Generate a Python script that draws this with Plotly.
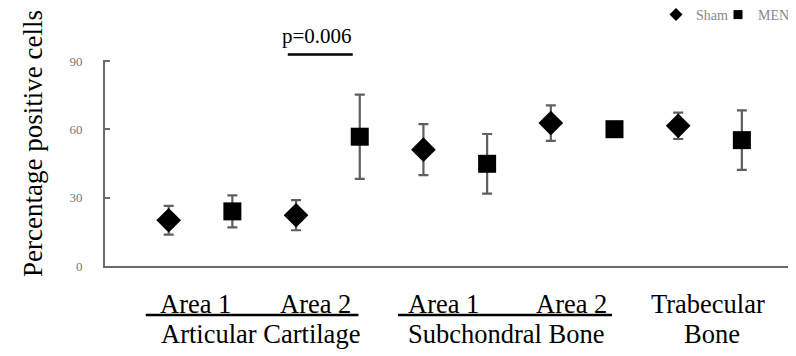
import plotly.graph_objects as go

# Data
categories = [1, 2, 3, 4, 5, 6, 7, 8, 9, 10]
sham_x = [1, 3, 5, 7, 9]
sham_values = [20.1, 22.3, 51.1, 62.8, 61.6]
sham_errors = [6.3, 6.6, 11.2, 7.8, 5.8]
men_x = [2, 4, 6, 8, 10]
men_values = [24.0, 56.8, 44.9, 60.1, 55.3]
men_errors = [7.0, 18.5, 13.1, 2.0, 13.1]
y_ticks = [0, 30, 60, 90]

area_labels = ["Area 1", "Area 2", "Area 1", "Area 2", "Trabecular"]
area_label_x = [1.42, 3.3, 5.32, 7.32, 9.47]
group_labels = ["Articular Cartilage", "Subchondral Bone", "Bone"]
group_label_x = [2.44, 6.3, 9.53]

SERIF = "Liberation Serif, Times New Roman, serif"
err_col = "#5f5f5f"
OFF = 8  # page body margin
W, H = 796, 356
L, T = 105 - OFF, 60 - OFF
R = W - (796 - OFF)
B = H - (266 - OFF)
PW, PH = W - L - R, H - T - B


def py(pix):
    """screen pixel row -> paper y"""
    return (266 - pix) / PH


def px(pix):
    return (pix - 105) / PW


fig = go.Figure()
fig.add_trace(go.Scatter(
    x=sham_x, y=sham_values, mode="markers", name="Sham", showlegend=False,
    marker=dict(symbol="diamond", size=19, color="black"),
    error_y=dict(type="data", array=sham_errors, color=err_col, thickness=2.2, width=5),
))
fig.add_trace(go.Scatter(
    x=men_x, y=men_values, mode="markers", name="MEN", showlegend=False,
    marker=dict(symbol="square", size=18, color="black"),
    error_y=dict(type="data", array=men_errors, color=err_col, thickness=2.2, width=5),
))
# legend entries
fig.add_trace(go.Scatter(x=[None], y=[None], mode="markers", name="Sham", legend="legend",
                         marker=dict(symbol="diamond", size=10, color="black")))
fig.add_trace(go.Scatter(x=[None], y=[None], mode="markers", name="MEN", legend="legend2",
                         marker=dict(symbol="square", size=9, color="black")))

FS = 26.5
ann = []
for t, x in zip(area_labels, area_label_x):
    ann.append(dict(x=x, y=py(304), xref="x", yref="paper", text=t, showarrow=False,
                    font=dict(family=SERIF, size=FS, color="black"), yanchor="middle"))
for t, x in zip(group_labels, group_label_x):
    ann.append(dict(x=x, y=py(334), xref="x", yref="paper", text=t, showarrow=False,
                    font=dict(family=SERIF, size=FS, color="black"), yanchor="middle"))
ann.append(dict(x=3.33, y=py(36), xref="x", yref="paper", text="p=0.006", showarrow=False,
                font=dict(family=SERIF, size=21, color="black"), yanchor="middle"))
ann.append(dict(x=px(16), y=py(144), xref="paper", yref="paper", text="Percentage positive cells",
                showarrow=False, textangle=-90,
                font=dict(family=SERIF, size=27, color="black")))

shapes = [
    dict(type="line", xref="x", yref="paper", x0=0.64, x1=3.98, y0=py(315), y1=py(315),
         line=dict(color="black", width=2.5)),
    dict(type="line", xref="x", yref="paper", x0=4.6, x1=7.96, y0=py(315), y1=py(315),
         line=dict(color="black", width=2.5)),
    dict(type="line", xref="x", yref="paper", x0=2.87, x1=3.89, y0=py(54.5), y1=py(54.5),
         line=dict(color="black", width=2.5)),
]

leg_common = dict(orientation="h", xref="paper", yref="paper", xanchor="right",
                  y=py(-1), yanchor="top",
                  font=dict(family=SERIF, size=14, color="#888888"),
                  itemwidth=30, bgcolor="rgba(0,0,0,0)")

fig.update_layout(
    width=W, height=H,
    margin=dict(l=L, r=R, t=T, b=B, autoexpand=False),
    paper_bgcolor="white", plot_bgcolor="white",
    showlegend=True,
    legend=dict(x=px(733), **leg_common),
    legend2=dict(x=px(795), **leg_common),
    xaxis=dict(range=[0, 10.85], showgrid=False, zeroline=False, showticklabels=False,
               showline=True, linecolor="#6b6b6b", linewidth=2, ticks=""),
    yaxis=dict(range=[0, 90.5], showgrid=False, zeroline=False, tickvals=y_ticks,
               ticks="inside", ticklen=5, tickcolor="#6b6b6b", tickwidth=1.5,
               showline=True, linecolor="#6b6b6b", linewidth=2,
               ticklabelstandoff=18,
               tickfont=dict(family=SERIF, size=13, color="#777777")),
    annotations=ann,
    shapes=shapes,
)

fig.write_html("out.html")
